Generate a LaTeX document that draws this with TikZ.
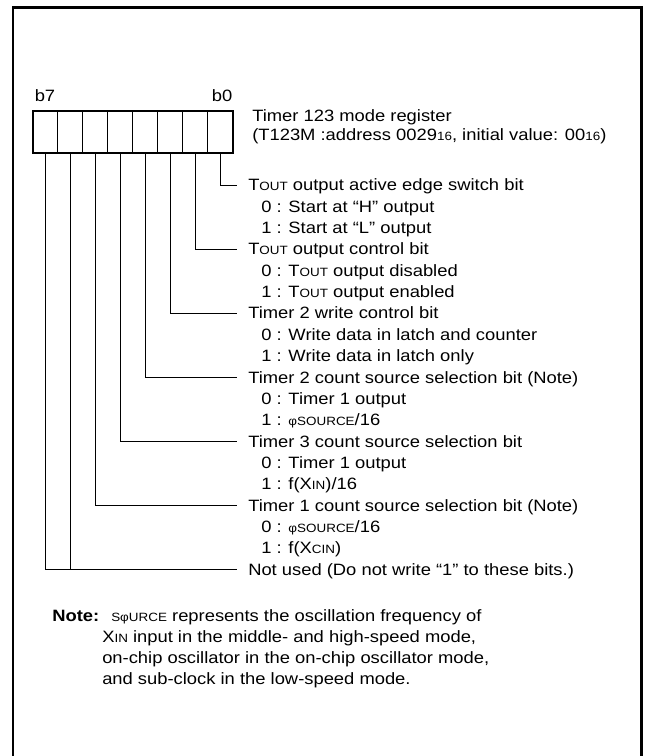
\documentclass[tikz,border=0pt]{standalone}
\usepackage{fontspec}
\setmainfont{Liberation Sans}[FakeStretch=1.12]
\newcommand{\sm}[1]{{\fontsize{9}{9}\selectfont #1}}
\newcommand{\tout}{T\sm{OUT}}
\newcommand{\phisrc}{\sm{φSOURCE}}
\tikzset{
  txt/.style={anchor=west, inner sep=0pt, text height=8.8pt, text depth=0pt, font=\fontsize{12.3}{14}\selectfont},
  cell/.style={minimum width=18.75pt, minimum height=31.5pt, inner sep=0pt, outer sep=0pt},
  conn/.style={line width=0.75pt},
}
\begin{document}
\begin{tikzpicture}[x=0.75pt,y=-0.75pt]
\useasboundingbox (0,0) rectangle (647,756);
\clip (0,0) rectangle (647,756);
% outer frame
\draw[line width=2.2pt] (13,770) -- (13,7.5) -- (641.5,7.5) -- (641.5,770);
% register cells (25 px wide, dividers on pixel centres)
\foreach \i in {0,...,7}{
  \node[cell] (c\i) at ({220-25*\i},132) {};
}
\foreach \i in {0,...,6}{
  \draw[line width=0.85pt] (c\i.north west) -- (c\i.south west);
}
\draw[line width=1.5pt] (c7.north west) rectangle (c0.south east);
\node[txt, anchor=center] (b7) at (45,96) {b7};
\node[txt, anchor=center] (b0) at (222,96) {b0};
\node[txt] (title1) at (252,116) {Timer 123 mode register};
\node[txt] (title2) at (252,135) {(T123M :address 0029\sm{16}, initial value: 00\sm{16})};
% items
\node[txt] (t0)  at (248,185)    {\tout{} output active edge switch bit};
\node[txt] (v0a) at (261,206.35) {0 : Start at “H” output};
\node[txt] (v0b) at (261,227.7)  {1 : Start at “L” output};
\node[txt] (t1)  at (248,249.05) {\tout{} output control bit};
\node[txt] (v1a) at (261,270.4)  {0 : \tout{} output disabled};
\node[txt] (v1b) at (261,291.75) {1 : \tout{} output enabled};
\node[txt] (t2)  at (248,313.1)  {Timer 2 write control bit};
\node[txt] (v2a) at (261,334.45) {0 : Write data in latch and counter};
\node[txt] (v2b) at (261,355.8)  {1 : Write data in latch only};
\node[txt] (t3)  at (248,377.15) {Timer 2 count source selection bit (Note)};
\node[txt] (v3a) at (261,398.5)  {0 : Timer 1 output};
\node[txt] (v3b) at (261,419.85) {1 : \phisrc/16};
\node[txt] (t4)  at (248,441.2)  {Timer 3 count source selection bit};
\node[txt] (v4a) at (261,462.55) {0 : Timer 1 output};
\node[txt] (v4b) at (261,483.9)  {1 : f(X\sm{IN})/16};
\node[txt] (t5)  at (248,505.25) {Timer 1 count source selection bit (Note)};
\node[txt] (v5a) at (261,526.6)  {0 : \phisrc/16};
\node[txt] (v5b) at (261,547.95) {1 : f(X\sm{CIN})};
\node[txt] (t6)  at (248,569.3)  {Not used (Do not write “1” to these bits.)};
% connectors
\foreach \c/\t in {c0/t0,c1/t1,c2/t2,c3/t3,c4/t4,c5/t5,c6/t6,c7/t6}{
  \draw[conn] (\c.south) |- ([xshift=-8.25pt]\t.west);
}
% note
\node[txt] (note) at (52,616) {\textbf{Note:}};
\node[txt] (n1) at (111,616) {\sm{SφURCE} represents the oscillation frequency of};
\node[txt] (n2) at (102,637) {X\sm{IN} input in the middle- and high-speed mode,};
\node[txt] (n3) at (102,658) {on-chip oscillator in the on-chip oscillator mode,};
\node[txt] (n4) at (102,679) {and sub-clock in the low-speed mode.};
\end{tikzpicture}
\end{document}
